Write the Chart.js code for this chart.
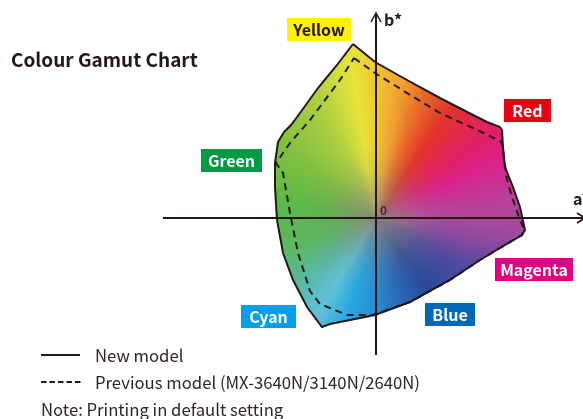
<!DOCTYPE html>
<html>
<head>
<meta charset="utf-8">
<script src="https://cdn.jsdelivr.net/npm/chart.js@4"></script>
<style>
  html, body { margin: 0; padding: 0; background: #fff; }
  body { width: 583px; height: 419px; position: relative; overflow: hidden;
         font-family: "Noto Sans CJK JP", "Noto Sans", sans-serif; color: #231815; }
  #gamut { position: absolute; left: 0; top: 0; }
  .title { position: absolute; left: 11px; top: 47px; font-size: 19px; font-weight: bold; line-height: 24px; white-space: nowrap; }
  .tag { position: absolute; height: 23px; line-height: 23px; font-size: 16px; font-weight: bold;
         color: #fff; text-align: center; white-space: nowrap; }
  .legend { position: absolute; left: 41px; font-size: 16.7px; line-height: 20px; white-space: nowrap; color: #2e2624; }
  .legend svg { position: absolute; left: 0; top: 9px; }
  .legend span { position: absolute; left: 54px; top: 0; }
</style>
</head>
<body>
<canvas id="gamut" width="583" height="419"></canvas>
<div class="title">Colour Gamut Chart</div>

<div class="tag" style="left:287px;top:18px;width:64px;background:#fff100;color:#231815;">Yellow</div>
<div class="tag" style="left:201px;top:149px;width:61px;background:#009944;">Green</div>
<div class="tag" style="left:504px;top:99px;width:47px;background:#e60012;">Red</div>
<div class="tag" style="left:495px;top:258px;width:78px;background:#e4007f;">Magenta</div>
<div class="tag" style="left:241px;top:305px;width:55px;background:#00a0e9;">Cyan</div>
<div class="tag" style="left:425px;top:303px;width:50px;background:#0068b7;">Blue</div>

<div class="legend" style="top:345px;">
  <svg width="40" height="4"><line x1="0" y1="1" x2="39" y2="1" stroke="#231815" stroke-width="2"/></svg>
  <span>New model</span>
</div>
<div class="legend" style="top:372px;">
  <svg width="40" height="4"><line x1="0" y1="1" x2="40" y2="1" stroke="#231815" stroke-width="2" stroke-dasharray="5.5 3"/></svg>
  <span>Previous model (MX-3640N/3140N/2640N)</span>
</div>
<div class="legend" style="top:399px;left:41px;">Note: Printing in default setting</div>

<script>
// new model gamut (a*, b*), clockwise from yellow
const aNew = [-11.5, -0.5, 15.5, 32, 48.5, 55.5, 62, 63, 63.5, 64.5, 68.5, 72, 74.5, 73, 62, 52, 37, 17, -0.5, -15.5, -23, -27, -34.5, -41.5, -46.5, -49.5, -50.5, -50.5, -49, -46, -42.5, -38, -29, -19.5, -11.5];
const bNew = [87, 78, 69, 60, 51.5, 48, 45.5, 44, 35.5, 25.5, 15.5, 5.5, -6, -8.5, -15, -21, -31, -42, -48.5, -51.5, -53, -54.5, -44.5, -31, -17.5, -1, 15.5, 27.5, 38, 43, 46.5, 52.5, 65, 76.5, 87];

// previous model (MX-3640N/3140N/2640N)
const aPrev = [-11, -0.5, 15.5, 32, 48.5, 62, 63, 65.5, 68.5, 72, 74, 73, 62, 52, 37, 17, -1.5, -14.5, -28, -33, -39, -43, -46.5, -50, -43, -33, -18, -11];
const bPrev = [80, 72.5, 62.5, 52.5, 45, 38.5, 37.5, 19, 9, -1, -5.5, -8.5, -15, -21, -31, -42, -48.5, -48.5, -43, -36.5, -17.5, 2.5, 22.5, 27.5, 37.5, 49, 69, 80];

// axis extents
const aAxis = [-106.5, 104.5];
const bAxis = [-68.5, 102.5];

const toPoints = (as, bs) => as.map((a, i) => ({ x: a, y: bs[i] }));

const hueStops = [
  [0, "#b0489c"], [0.03, "#8e4a9e"], [0.08, "#4e4aa0"], [0.15, "#2a4a9a"],
  [0.205, "#2a68b8"], [0.25, "#2a8ad0"], [0.295, "#28a8e0"], [0.335, "#5ec0d8"],
  [0.39, "#58b8a0"], [0.445, "#5ab860"], [0.53, "#5cb848"], [0.605, "#80c040"],
  [0.68, "#b0d040"], [0.725, "#e6e43a"], [0.75, "#f0c830"], [0.78, "#f0a030"],
  [0.805, "#e87028"], [0.845, "#e3322b"], [0.9, "#e0206a"], [0.93, "#d8238a"],
  [0.98, "#b8409a"], [1, "#b0489c"],
];

const ink = "#231815";

const gamutPlugin = {
  id: "gamutPlugin",
  beforeDatasetsDraw(chart) {
    const { ctx, scales: { x, y } } = chart;
    const ox = x.getPixelForValue(0);
    const oy = y.getPixelForValue(0);
    const pts = chart.getDatasetMeta(0).data;

    // colour fill of the new gamut
    ctx.save();
    ctx.beginPath();
    pts.forEach((p, i) => (i ? ctx.lineTo(p.x, p.y) : ctx.moveTo(p.x, p.y)));
    ctx.closePath();
    ctx.clip();
    const g = ctx.createConicGradient(0, ox, oy);
    hueStops.forEach(([f, c]) => g.addColorStop(f, c));
    ctx.fillStyle = g;
    ctx.fillRect(0, 0, chart.width, chart.height);
    const r = ctx.createRadialGradient(ox, oy, 0, ox, oy, 75);
    r.addColorStop(0, "rgba(140,136,122,0.9)");
    r.addColorStop(0.3, "rgba(140,136,122,0.55)");
    r.addColorStop(0.65, "rgba(140,136,122,0.15)");
    r.addColorStop(1, "rgba(140,136,122,0)");
    ctx.fillStyle = r;
    ctx.fillRect(0, 0, chart.width, chart.height);
    ctx.restore();

    // axes
    const x0 = x.getPixelForValue(aAxis[0]), x1 = x.getPixelForValue(aAxis[1]);
    const y0 = y.getPixelForValue(bAxis[0]), y1 = y.getPixelForValue(bAxis[1]);
    ctx.save();
    ctx.strokeStyle = ink;
    ctx.lineWidth = 2;
    ctx.beginPath();
    ctx.moveTo(x0, oy); ctx.lineTo(x1, oy);
    ctx.moveTo(ox, y0); ctx.lineTo(ox, y1);
    ctx.stroke();
    ctx.lineWidth = 1.5;
    ctx.beginPath();
    ctx.moveTo(x1 - 8, oy - 5); ctx.lineTo(x1, oy); ctx.lineTo(x1 - 8, oy + 5);
    ctx.moveTo(ox - 5, y1 + 9); ctx.lineTo(ox, y1); ctx.lineTo(ox + 5, y1 + 9);
    ctx.stroke();
    ctx.fillStyle = ink;
    ctx.font = 'bold 16px "Noto Sans CJK JP"';
    ctx.textBaseline = "alphabetic";
    ctx.fillText("b*", ox + 8, y1 + 13);
    ctx.fillText("a*", x1 - 12, oy - 13);
    ctx.fillStyle = "#3a3030";
    ctx.font = 'bold 12px "Noto Sans CJK JP"';
    ctx.fillText("0", ox + 4, oy - 3);
    ctx.restore();
  },
};

new Chart(document.getElementById("gamut"), {
  type: "scatter",
  data: {
    datasets: [
      {
        label: "New model",
        data: toPoints(aNew, bNew),
        showLine: true,
        borderColor: ink,
        borderWidth: 2,
        pointRadius: 0,
        tension: 0,
      },
      {
        label: "Previous model (MX-3640N/3140N/2640N)",
        data: toPoints(aPrev, bPrev),
        showLine: true,
        borderColor: ink,
        borderWidth: 2,
        borderDash: [7, 5],
        pointRadius: 0,
        tension: 0,
      },
    ],
  },
  options: {
    responsive: false,
    animation: false,
    devicePixelRatio: 1,
    layout: { padding: 0 },
    plugins: { legend: { display: false }, tooltip: { enabled: false }, title: { display: false } },
    scales: {
      x: { type: "linear", min: -188, max: 103.5, display: false },
      y: { type: "linear", min: -100.5, max: 109, display: false },
    },
  },
  plugins: [gamutPlugin],
});
</script>
</body>
</html>
